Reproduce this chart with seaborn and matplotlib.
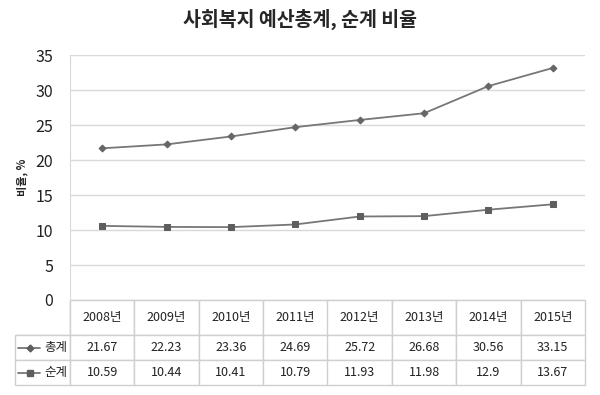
import matplotlib
matplotlib.use("Agg")
import matplotlib.pyplot as plt
from matplotlib.lines import Line2D
import seaborn as sns
import pandas as pd

years = ['2008년', '2009년', '2010년', '2011년', '2012년', '2013년', '2014년', '2015년']
total = [21.67, 22.23, 23.36, 24.69, 25.72, 26.68, 30.56, 33.15]
net = [10.59, 10.44, 10.41, 10.79, 11.93, 11.98, 12.9, 13.67]
series_names = ['총계', '순계']

sns.set_style('white')
plt.rcParams['font.family'] = ['Noto Sans CJK KR', 'DejaVu Sans']

df = pd.DataFrame({'pos': range(len(years)), '총계': total, '순계': net})

fig = plt.figure(figsize=(6, 3.95), dpi=100)
ax = fig.add_axes([70 / 600, 1 - 300 / 395, 515 / 600, 245 / 395])

line_col = '#777777'
grid_col = '#d9d9d9'
sns.lineplot(data=df, x='pos', y='총계', ax=ax, color=line_col, lw=1.3,
             marker='D', markersize=3.5, markeredgecolor='#666666', markerfacecolor='#666666')
sns.lineplot(data=df, x='pos', y='순계', ax=ax, color=line_col, lw=1.3,
             marker='s', markersize=5, markeredgecolor='#5e5e5e', markerfacecolor='#5e5e5e')

ax.set_xlim(-0.5, len(years) - 0.5)
ax.set_ylim(0, 35)
ax.set_yticks(range(0, 36, 5))
ax.yaxis.grid(True, color=grid_col, lw=1)
ax.set_axisbelow(True)
ax.set_xticks([])
ax.set_xlabel('')
ax.set_ylabel('비율, %', fontsize=8, fontweight='bold', labelpad=5)
ax.tick_params(axis='y', labelsize=11.5, colors='#222222', length=0, pad=12)
for s in ['top', 'right', 'bottom']:
    ax.spines[s].set_visible(False)
ax.spines['left'].set_color(grid_col)

fig.suptitle('사회복지 예산총계, 순계 비율', x=0.5, y=0.978, fontsize=14, fontweight='bold')

# data table under the plot
cell_text = [[''] + years,
             [series_names[0]] + [f'{v:g}' for v in total],
             [series_names[1]] + [f'{v:g}' for v in net]]
lab_w = 55 / 515
col_w = 1 / len(years)
tbl = ax.table(cellText=cell_text, colWidths=[lab_w] + [col_w] * len(years),
               cellLoc='center', bbox=[-lab_w, -85 / 245, 1 + lab_w, 85 / 245])
tbl.auto_set_font_size(False)
for (r, c), cell in tbl.get_celld().items():
    cell.set_edgecolor('#cfcfcf')
    cell.set_linewidth(1)
    cell.get_text().set_fontsize(9)
    cell.get_text().set_color('#222222')
    if r == 0:
        cell.set_height(35)
    else:
        cell.set_height(25)
    if r == 0 and c == 0:
        cell.visible_edges = 'BR'
    if r > 0 and c == 0:
        cell.get_text().set_ha('right')
        cell.PAD = 0.05

# legend keys inside the row label cells
for i, (mk, ms) in enumerate([('D', 3.5), ('s', 5)]):
    yk = 1 - (347.5 + 25 * i) / 395
    fig.add_artist(Line2D([18 / 600, 40 / 600], [yk, yk], transform=fig.transFigure,
                          color=line_col, lw=1.3))
    fig.add_artist(Line2D([30 / 600], [yk], transform=fig.transFigure, marker=mk,
                          markersize=ms, color='#5e5e5e', lw=0))

fig.savefig('out.png', dpi=100)
